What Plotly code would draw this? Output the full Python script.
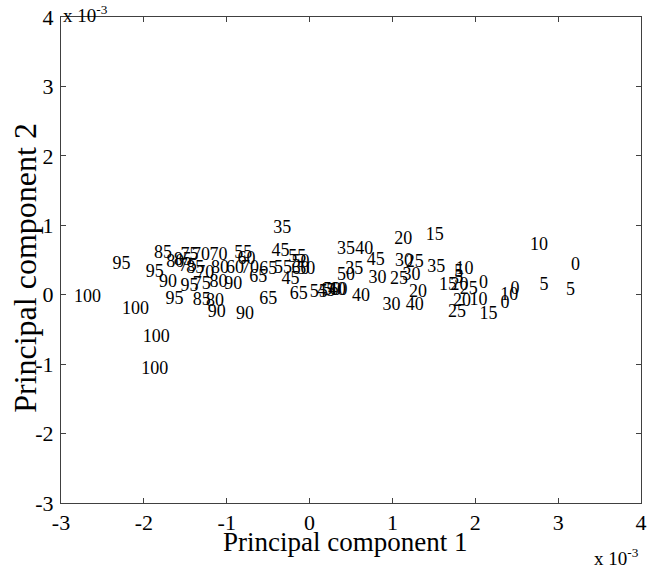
import plotly.graph_objects as go

# Values in units of 1e-3 (axes show "x 10^-3")
labels = [
    "100", "100", "100", "100",
    "95", "95", "95", "95",
    "90", "90", "90", "90",
    "85", "85", "85", "85",
    "80", "80", "80", "80",
    "75", "75", "75",
    "70", "70", "70", "70",
    "65", "65", "65", "65",
    "60", "60", "60", "60",
    "55", "55", "55", "55",
    "50", "50", "50", "50",
    "45", "45", "45", "45",
    "40", "40", "40", "40",
    "35", "35", "35", "35",
    "30", "30", "30", "30",
    "25", "25", "25", "25",
    "20", "20", "20", "20",
    "15", "15", "15",
    "10", "10", "10", "10",
    "5", "5", "5", "5",
    "0", "0", "0", "0",
]
pc1 = [
    -2.68, -2.10, -1.85, -1.87,
    -2.27, -1.87, -1.63, -1.45,
    -1.71, -0.92, -1.12, -0.78,
    -1.77, -1.53, -1.38, -1.30,
    -1.62, -1.08, -1.10, -1.14,
    -1.45, -1.47, -1.30,
    -1.31, -1.10, -1.26, -0.72,
    -0.62, -0.50, -0.50, -0.13,
    -0.90, -0.76, -0.11, 0.35,
    -0.80, -0.15, -0.32, 0.11,
    0.44, -0.11, -0.04, 0.27,
    -0.35, -0.23, 0.80, 0.20,
    0.66, 0.62, 1.27, 0.33,
    -0.33, 0.44, 0.54, 1.53,
    1.14, 0.82, 1.23, 0.99,
    1.08, 1.78, 1.92, 1.27,
    1.13, 1.81, 1.31, 1.84,
    1.51, 1.67, 2.16,
    2.77, 1.87, 2.04, 2.41,
    2.83, 3.15, 1.80, 1.80,
    3.21, 2.10, 2.48, 2.36,
]
pc2 = [
    -0.04, -0.22, -0.61, -1.08,
    0.43, 0.32, -0.07, 0.12,
    0.17, 0.14, -0.25, -0.29,
    0.59, 0.49, 0.38, -0.09,
    0.46, 0.38, 0.17, -0.10,
    0.56, 0.40, 0.14,
    0.56, 0.56, 0.30, 0.38,
    0.25, 0.36, -0.07, 0.00,
    0.38, 0.51, 0.36, 0.06,
    0.59, 0.53, 0.38, 0.03,
    0.27, 0.46, 0.36, 0.06,
    0.62, 0.22, 0.49, 0.04,
    0.65, -0.03, -0.16, 0.06,
    0.95, 0.65, 0.36, 0.39,
    0.48, 0.23, 0.27, -0.16,
    0.22, -0.25, 0.07, 0.46,
    0.79, 0.13, 0.03, -0.10,
    0.85, 0.13, -0.29,
    0.71, 0.36, -0.09, -0.01,
    0.13, 0.06, 0.32, 0.23,
    0.42, 0.16, 0.07, -0.12,
]
tick_vals = [-3, -2, -1, 0, 1, 2, 3, 4]
tick_text = ["-3", "-2", "-1", "0", "1", "2", "3", "4"]

FONT = "Liberation Serif, Times New Roman, serif"

fig = go.Figure()
fig.add_trace(go.Scatter(
    x=pc1, y=pc2, text=labels, mode="text",
    textposition="middle center",
    textfont=dict(family=FONT, size=18, color="black"),
    cliponaxis=False, hoverinfo="text", showlegend=False,
))

axis_common = dict(
    showgrid=False, zeroline=False, showline=True, linecolor="#404040",
    linewidth=1, mirror="ticks", ticks="inside", ticklen=5,
    tickcolor="#404040", tickvals=tick_vals, ticktext=tick_text,
    tickfont=dict(family=FONT, size=22, color="black"),
    automargin=False, ticklabeloverflow="allow",
)
fig.update_xaxes(range=[-3, 4], ticklabelstandoff=0, **axis_common)
fig.update_yaxes(range=[-3, 4], ticklabelstandoff=2, **axis_common)

fig.add_annotation(text="Principal component 1", xref="paper", yref="paper",
                   x=0.49, y=-0.080, xanchor="center", yanchor="middle",
                   showarrow=False, font=dict(family=FONT, size=27, color="black"))
fig.add_annotation(text="Principal component 2", xref="paper", yref="paper",
                   x=-0.062, y=0.484, xanchor="center", yanchor="middle",
                   textangle=-90, showarrow=False,
                   font=dict(family=FONT, size=32, color="black"))
fig.add_annotation(text="x 10<sup>-3</sup>", xref="paper", yref="paper",
                   x=0.0, y=1.035, xanchor="left", yanchor="top",
                   showarrow=False, font=dict(family=FONT, size=19, color="black"))
fig.add_annotation(text="x 10<sup>-3</sup>", xref="paper", yref="paper",
                   x=1.0, y=-0.14, xanchor="right", yanchor="bottom",
                   showarrow=False, font=dict(family=FONT, size=19, color="black"))

fig.update_layout(
    width=647, height=571,
    margin=dict(l=61, r=6, t=17, b=68),
    paper_bgcolor="white", plot_bgcolor="white",
)
fig.write_html(
    "out.html",
    config={"displayModeBar": False},
    post_script="document.body.style.margin='0';document.body.style.overflow='hidden';",
)
